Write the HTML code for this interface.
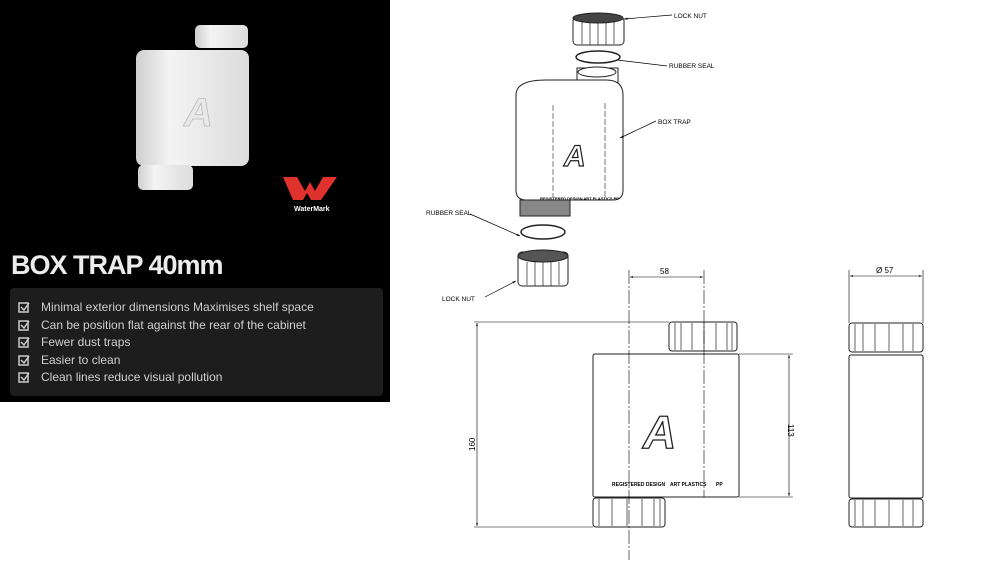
<!DOCTYPE html>
<html><head><meta charset="utf-8"><style>
body{margin:0;width:989px;height:571px;background:#fff;overflow:hidden;font-family:"Liberation Sans",sans-serif}
</style></head><body>
<svg width="989" height="571" viewBox="0 0 989 571" xmlns="http://www.w3.org/2000/svg" font-family="Liberation Sans, sans-serif">
<defs>
<linearGradient id="wg" x1="0" x2="1"><stop offset="0" stop-color="#cfcfcf"/><stop offset=".3" stop-color="#f4f4f4"/><stop offset="1" stop-color="#dcdcdc"/></linearGradient>
<marker id="ar" viewBox="0 0 10 10" refX="10" refY="5" markerWidth="7" markerHeight="5" orient="auto-start-reverse"><path d="M0,2 L10,5 L0,8z" fill="#000"/></marker>
</defs>
<rect x="0" y="0" width="390" height="402" fill="#000"/>
<rect x="195" y="25" width="53" height="23" rx="5" fill="url(#wg)"/>
<rect x="136" y="50" width="113" height="116" rx="8" fill="url(#wg)"/>
<rect x="138" y="165" width="55" height="25" rx="5" fill="url(#wg)"/>
<text x="184" y="126" font-size="40" font-weight="bold" font-style="italic" fill="#e8e8e8" stroke="#bbb" stroke-width=".8">A</text>
<path d="M283,177 h14 l8,14 l5,-9 l5,9 l8,-14 h14 l-16,23 h-10 l-4,-7 l-4,7 h-10z" fill="#e0322c"/>
<text x="294" y="211" font-size="7" font-weight="bold" fill="#fff">WaterMark</text>
<text x="11" y="274" font-size="27" font-weight="bold" fill="#ececec" letter-spacing="-1">BOX TRAP 40mm</text>
<rect x="10" y="288" width="373" height="108" rx="4" fill="#1d1d1d"/>
<g font-size="12" fill="#cfcfcf">
<text x="41" y="311">Minimal exterior dimensions Maximises shelf space</text>
<text x="41" y="329">Can be position flat against the rear of the cabinet</text>
<text x="41" y="346">Fewer dust traps</text>
<text x="41" y="364">Easier to clean</text>
<text x="41" y="381">Clean lines reduce visual pollution</text>
</g>
<g fill="none" stroke="#ccc" stroke-width="1.5">
<rect x="19" y="303" width="9" height="9"/><rect x="19" y="321" width="9" height="9"/><rect x="19" y="338" width="9" height="9"/><rect x="19" y="356" width="9" height="9"/><rect x="19" y="373" width="9" height="9"/>
<path d="M21,307l3,3 5,-7M21,325l3,3 5,-7M21,342l3,3 5,-7M21,360l3,3 5,-7M21,377l3,3 5,-7"/>
</g>
<g stroke="#222" fill="#fff" stroke-width="1">
<rect x="573" y="17" width="51" height="28" rx="4"/>
<ellipse cx="598" cy="18" rx="25" ry="5" fill="#444"/>
<path d="M582,22v22M590,23v22M598,23v22M606,23v22M614,22v22" stroke-width=".7"/>
<ellipse cx="598" cy="57" rx="22" ry="6" stroke-width="1.5"/>
<rect x="577" y="68" width="41" height="18"/>
<ellipse cx="597" cy="72" rx="19" ry="5"/>
<path d="M516,95 q0,-15 30,-15 h60 q17,0 17,15 v95 q0,10 -10,10 h-87 q-10,0 -10,-10z"/>
<path d="M553,105v93M605,103v95" stroke-dasharray="6,2" stroke-width=".6"/>
<text x="564" y="166" font-size="30" font-weight="bold" font-style="italic" fill="#fff" stroke="#222" stroke-width="1.2">A</text>
<rect x="520" y="200" width="50" height="16" fill="#888"/>
<ellipse cx="543" cy="232" rx="22" ry="7" stroke-width="1.5"/>
<rect x="518" y="252" width="50" height="34" rx="4"/>
<ellipse cx="543" cy="256" rx="25" ry="6" fill="#555"/>
<path d="M527,262v23M535,262v24M543,262v24M551,262v24M559,262v23" stroke-width=".7"/>
</g>
<text x="540" y="200" font-size="4" font-weight="bold">REGISTERED DESIGN   ART PLASTICS   PP</text>
<g stroke="#000" stroke-width=".7" fill="none">
<line x1="672" y1="15" x2="624" y2="19" marker-end="url(#ar)"/>
<line x1="667" y1="66" x2="617" y2="60"/>
<line x1="656" y1="121" x2="620" y2="138" marker-end="url(#ar)"/>
<line x1="470" y1="214" x2="520" y2="236" marker-end="url(#ar)"/>
<line x1="485" y1="297" x2="516" y2="281" marker-end="url(#ar)"/>
</g>
<g font-size="6.5" fill="#000">
<text x="674" y="18">LOCK NUT</text>
<text x="669" y="68">RUBBER SEAL</text>
<text x="658" y="124">BOX TRAP</text>
<text x="426" y="215">RUBBER SEAL</text>
<text x="442" y="301">LOCK NUT</text>
</g>
<g stroke="#222" fill="#fff" stroke-width="1">
<rect x="669" y="322" width="68" height="29" rx="3"/>
<path d="M675,323v27M681,323v27M692,323v27M704,323v27M716,323v27M727,323v27M732,323v27" stroke-width=".7"/>
<rect x="593" y="354" width="146" height="143" rx="2"/>
<rect x="593" y="498" width="72" height="29" rx="3"/>
<path d="M599,499v27M612,499v27M627,499v27M642,499v27M654,499v27M660,499v27" stroke-width=".7"/>
<text x="643" y="448" font-size="46" font-weight="bold" font-style="italic" fill="#fff" stroke="#222" stroke-width="1.3">A</text>
<rect x="849" y="323" width="74" height="29" rx="3"/>
<path d="M855,324v27M863,324v27M875,324v27M889,324v27M903,324v27M913,324v27" stroke-width=".7"/>
<rect x="849" y="355" width="74" height="143" rx="2"/>
<rect x="849" y="499" width="74" height="28" rx="3"/>
<path d="M855,500v26M863,500v26M875,500v26M889,500v26M903,500v26M913,500v26" stroke-width=".7"/>
</g>
<text x="612" y="486" font-size="5" font-weight="bold">REGISTERED DESIGN</text>
<text x="670" y="486" font-size="5" font-weight="bold">ART PLASTICS</text>
<text x="716" y="486" font-size="5" font-weight="bold">PP</text>
<g stroke="#000" stroke-width=".6" fill="none">
<line x1="629" y1="270" x2="629" y2="560" stroke-dasharray="14,2,2,2"/>
<line x1="704" y1="270" x2="704" y2="497" stroke-dasharray="14,2,2,2"/>
<line x1="630" y1="277" x2="703" y2="277" marker-start="url(#ar)" marker-end="url(#ar)"/>
<line x1="474" y1="322" x2="669" y2="322"/>
<line x1="474" y1="527" x2="593" y2="527"/>
<line x1="477" y1="323" x2="477" y2="526" marker-start="url(#ar)" marker-end="url(#ar)"/>
<line x1="739" y1="354" x2="793" y2="354"/>
<line x1="739" y1="497" x2="793" y2="497"/>
<line x1="789" y1="355" x2="789" y2="496" marker-start="url(#ar)" marker-end="url(#ar)"/>
<line x1="849" y1="270" x2="849" y2="323"/>
<line x1="923" y1="270" x2="923" y2="323"/>
<line x1="850" y1="276" x2="922" y2="276" marker-start="url(#ar)" marker-end="url(#ar)"/>
</g>
<g font-size="8" fill="#000">
<text x="660" y="274">58</text>
<text x="876" y="273">Ø 57</text>
<text transform="translate(475,451) rotate(-90)">160</text>
<text transform="translate(788,424) rotate(90)">113</text>
</g>
</svg>
</body></html>
